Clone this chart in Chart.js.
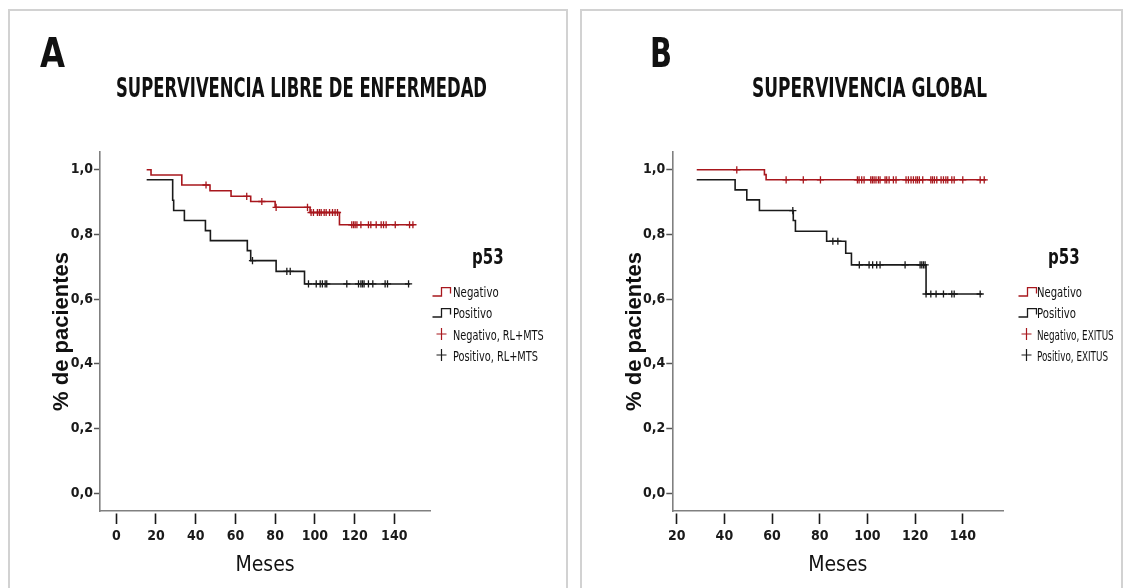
<!DOCTYPE html>
<html lang="es">
<head>
<meta charset="utf-8">
<title>p53 - Kaplan-Meier</title>
<script src="https://cdn.jsdelivr.net/npm/chart.js@4.4.1/dist/chart.umd.min.js"></script>
<style>
  html, body { margin: 0; padding: 0; background: #fff; }
  body {
    width: 1131px; height: 588px; position: relative; overflow: hidden;
    font-family: "Liberation Sans Narrow", "Arial Narrow", "DejaVu Sans Condensed", sans-serif;
    color: #111;
  }
  .panel { position: absolute; top: 9px; height: 620px; border: 2px solid #d2d2d2; box-sizing: border-box; }
  canvas { position: absolute; top: 0; }
  .txt { position: absolute; white-space: nowrap; line-height: 1; transform-origin: 0 0; }
  .big { font-size: 40px; font-weight: bold; }
  .ttl { font-size: 26px; font-weight: bold; }
  .leg-h { font-size: 22px; font-weight: bold; }
  .leg { font-size: 14px; }
  svg.ico { position: absolute; overflow: visible; }
</style>
</head>
<body>

<div class="panel" style="left:8px; width:560px;"></div>
<div class="panel" style="left:580px; width:543px;"></div>

<canvas id="chartA" width="565" height="588" style="left:0;"></canvas>
<canvas id="chartB" width="566" height="588" style="left:565px;"></canvas>

<!-- Panel A headings -->
<div class="txt big" style="left:40px; top:33px;" data-w="25">A</div>
<div class="txt ttl" style="left:116px; top:75px;" data-w="371">SUPERVIVENCIA LIBRE DE ENFERMEDAD</div>

<!-- Panel A legend -->
<div class="txt leg-h" style="left:472px; top:246px;" data-w="31.6">p53</div>
<svg class="ico" style="left:432px; top:286px;" width="20" height="12"><path d="M0.5 10 H9.5 V1.7 H18.5 V7.5" fill="none" stroke="#a8171d" stroke-width="1.3"/></svg>
<div class="txt leg" style="left:453px; top:285px;" data-w="45.7">Negativo</div>
<svg class="ico" style="left:432px; top:306.6px;" width="20" height="12"><path d="M0.5 10 H9.5 V1.7 H18.5 V7.5" fill="none" stroke="#1a1a1a" stroke-width="1.3"/></svg>
<div class="txt leg" style="left:453px; top:305.5px;" data-w="39.3">Positivo</div>
<svg class="ico" style="left:436px; top:327px;" width="12" height="14"><path d="M5.5 1 V13 M0.5 7 H10.5" fill="none" stroke="#a8171d" stroke-width="1.2"/></svg>
<div class="txt leg" style="left:453px; top:328.2px;" data-w="90.7">Negativo, RL+MTS</div>
<svg class="ico" style="left:436px; top:347.7px;" width="12" height="14"><path d="M5.5 1 V13 M0.5 7 H10.5" fill="none" stroke="#1a1a1a" stroke-width="1.2"/></svg>
<div class="txt leg" style="left:453px; top:348.9px;" data-w="85">Positivo, RL+MTS</div>

<!-- Panel B headings -->
<div class="txt big" style="left:650px; top:33px;" data-w="22">B</div>
<div class="txt ttl" style="left:752px; top:75px;" data-w="235">SUPERVIVENCIA GLOBAL</div>

<!-- Panel B legend -->
<div class="txt leg-h" style="left:1048.3px; top:246px;" data-w="31.7">p53</div>
<svg class="ico" style="left:1017.5px; top:286px;" width="20" height="12"><path d="M0.5 10 H9.5 V1.7 H18.5 V7.5" fill="none" stroke="#a8171d" stroke-width="1.3"/></svg>
<div class="txt leg" style="left:1036.7px; top:285px;" data-w="45">Negativo</div>
<svg class="ico" style="left:1017.5px; top:306.6px;" width="20" height="12"><path d="M0.5 10 H9.5 V1.7 H18.5 V7.5" fill="none" stroke="#1a1a1a" stroke-width="1.3"/></svg>
<div class="txt leg" style="left:1036.7px; top:305.5px;" data-w="39">Positivo</div>
<svg class="ico" style="left:1021px; top:327px;" width="12" height="14"><path d="M5.5 1 V13 M0.5 7 H10.5" fill="none" stroke="#a8171d" stroke-width="1.2"/></svg>
<div class="txt leg" style="left:1036.7px; top:328.2px;" data-w="76.7">Negativo, EXITUS</div>
<svg class="ico" style="left:1021px; top:347.7px;" width="12" height="14"><path d="M5.5 1 V13 M0.5 7 H10.5" fill="none" stroke="#1a1a1a" stroke-width="1.2"/></svg>
<div class="txt leg" style="left:1036.7px; top:348.9px;" data-w="71">Positivo, EXITUS</div>

<script>
// ---- Supervivencia libre de enfermedad (A) ----
// step times (months) and survival after each step; last entry is the end of follow-up
const mesesA_neg = [15.3, 17.5, 33.0, 47.2, 57.8, 67.7, 80.0, 97.6, 112.4, 150.0];
const survA_neg  = [1.000, 0.984, 0.953, 0.935, 0.918, 0.902, 0.884, 0.868, 0.830, 0.830];
const censA_neg  = [45.2, 65.7, 73.3, 80.5, 96.3, 98.1, 99.3, 101.3, 102.3, 103.2, 104.7, 105.7,
                    107.4, 108.9, 110.2, 111.4, 118.6, 119.5, 120.3, 121.2, 123.2, 127.0, 128.2,
                    130.9, 133.4, 134.6, 135.9, 140.5, 147.7, 149.4];

const mesesA_pos = [15.3, 28.4, 28.9, 34.3, 44.9, 47.4, 66.0, 67.7, 80.5, 94.8, 148.0];
const survA_pos  = [0.969, 0.906, 0.874, 0.843, 0.812, 0.781, 0.750, 0.719, 0.686, 0.647, 0.647];
const censA_pos  = [68.6, 85.9, 87.6, 96.8, 100.7, 102.7, 103.8, 105.2, 106.0, 116.1, 122.0,
                    123.2, 124.0, 124.8, 127.0, 129.2, 135.4, 136.6, 147.2];

// ---- Supervivencia global (B) ----
const mesesB_neg = [28.4, 56.8, 57.5, 149.8];
const survB_neg  = [1.000, 0.985, 0.969, 0.969];
const censB_neg  = [45.2, 65.9, 73.1, 80.3, 95.8, 96.5, 97.6, 98.6, 101.4, 102.1, 102.8, 103.6,
                    104.6, 105.3, 107.4, 108.1, 109.1, 110.9, 112.0, 116.2, 117.2, 118.3, 119.3,
                    120.3, 121.0, 121.8, 123.2, 126.6, 127.3, 128.1, 129.1, 130.9, 131.9, 132.9,
                    133.7, 135.4, 136.4, 140.0, 147.3, 149.0];

const mesesB_pos = [28.4, 44.5, 49.4, 54.7, 68.9, 69.8, 82.9, 90.9, 93.3, 124.6, 148.0];
const survB_pos  = [0.969, 0.938, 0.907, 0.874, 0.843, 0.810, 0.779, 0.742, 0.706, 0.616, 0.616];
const censB_pos  = [68.7, 85.5, 87.6, 96.6, 100.7, 102.2, 103.9, 105.3, 115.8, 122.1, 122.8,
                    123.5, 124.2, 124.6, 126.6, 128.8, 131.9, 135.4, 136.4, 147.3];

// ---- axis ticks ----
const yTicks  = [0, 0.2, 0.4, 0.6, 0.8, 1.0];
const xTicksA = [0, 20, 40, 60, 80, 100, 120, 140];
const xTicksB = [20, 40, 60, 80, 100, 120, 140];

const RED = '#a8171d';
const BLACK = '#1a1a1a';
const NARROW = '"Liberation Sans Narrow", "Arial Narrow", "DejaVu Sans Condensed", sans-serif';

// survival value of a step curve at time t (value after any step at t)
function survAt(times, surv, t) {
  let s = surv[0];
  for (let i = 0; i < times.length; i++) if (times[i] <= t) s = surv[i];
  return s;
}

function stepSet(times, surv, color) {
  return {
    type: 'line',
    data: times.map((t, i) => ({ x: t, y: surv[i] })),
    stepped: 'before',
    borderColor: color,
    borderWidth: 1.6,
    pointRadius: 0,
    fill: false,
    order: 2
  };
}

function censorSet(cens, times, surv, color) {
  return {
    type: 'line',
    showLine: false,
    data: cens.map(t => ({ x: t, y: survAt(times, surv, t) })),
    pointStyle: 'cross',
    pointRadius: 3.6,
    borderColor: color,
    borderWidth: 1.3,
    order: 1
  };
}

function makeChart(id, datasets, xMin, xMax, xTicks, pad) {
  return new Chart(document.getElementById(id), {
    type: 'line',
    data: { datasets },
    options: {
      responsive: false,
      animation: false,
      devicePixelRatio: 1,
      events: [],
      layout: { padding: pad },
      plugins: { legend: { display: false }, tooltip: { enabled: false } },
      scales: {
        x: {
          type: 'linear',
          min: xMin, max: xMax,
          bounds: 'data',
          afterBuildTicks: s => { s.ticks = xTicks.map(v => ({ value: v })); },
          afterFit: s => { s.height = 70; },
          ticks: {
            autoSkip: false, maxRotation: 0, padding: 4,
            color: '#1a1a1a',
            font: { family: NARROW, size: 14, weight: 'bold' },
            callback: v => String(v)
          },
          grid: {
            drawOnChartArea: false,
            tickLength: 13, tickWidth: 1.6, tickColor: '#1a1a1a',
            tickBorderDash: [0, 2, 11, 0]
          },
          border: { color: '#808080', width: 1.6 },
          title: {
            display: true, text: 'Meses', color: '#111',
            font: { family: NARROW, size: 21 },
            padding: { top: 0, bottom: 3 }
          }
        },
        y: {
          type: 'linear',
          min: -0.055, max: 1.055,
          bounds: 'data',
          afterBuildTicks: s => { s.ticks = yTicks.map(v => ({ value: v })); },
          afterFit: s => { s.width = 60; },
          ticks: {
            padding: 1, color: '#1a1a1a',
            font: { family: NARROW, size: 14, weight: 'bold' },
            callback: v => v.toFixed(1).replace('.', ',')
          },
          grid: { drawOnChartArea: false, tickLength: 6, tickWidth: 1.5, tickColor: '#555' },
          border: { color: '#808080', width: 1.6 },
          title: {
            display: true, text: '% de pacientes', color: '#111',
            font: { family: '"Liberation Sans", Arial, sans-serif', size: 22, weight: 'bold' },
            padding: { top: 9, bottom: 0 }
          }
        }
      }
    }
  });
}

makeChart('chartA', [
  stepSet(mesesA_neg, survA_neg, RED),
  stepSet(mesesA_pos, survA_pos, BLACK),
  censorSet(censA_neg, mesesA_neg, survA_neg, RED),
  censorSet(censA_pos, mesesA_pos, survA_pos, BLACK)
], -8.2, 158, xTicksA, { left: 40, right: 135, top: 152, bottom: 7 });

makeChart('chartB', [
  stepSet(mesesB_neg, survB_neg, RED),
  stepSet(mesesB_pos, survB_pos, BLACK),
  censorSet(censB_neg, mesesB_neg, survB_neg, RED),
  censorSet(censB_pos, mesesB_pos, survB_pos, BLACK)
], 18.15, 157, xTicksB, { left: 47.3, right: 127.7, top: 152, bottom: 7 });

// condensed headings and legend labels: squeeze each to its set width
document.querySelectorAll('[data-w]').forEach(el => {
  const w = el.getBoundingClientRect().width;
  if (w > 0) el.style.transform = 'scaleX(' + (parseFloat(el.dataset.w) / w).toFixed(4) + ')';
});
</script>
</body>
</html>
